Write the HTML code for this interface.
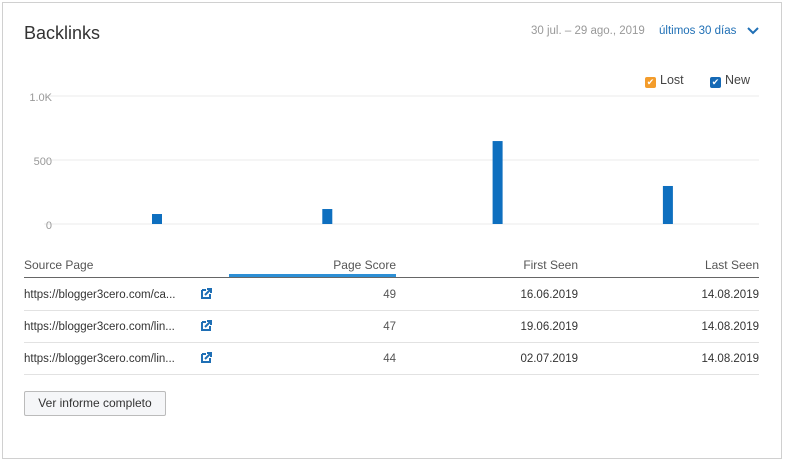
<!DOCTYPE html>
<html><head><meta charset="utf-8"><style>
body{margin:0;width:786px;height:462px;background:#fff;font-family:"Liberation Sans",sans-serif;overflow:hidden;position:relative}
.card{position:absolute;left:2px;top:2px;width:780px;height:457px;border:1px solid #d0d0d0;box-sizing:border-box}
.abs{position:absolute;white-space:nowrap}
.hd{font-size:12px;color:#555;top:258px}
.cell{font-size:11.5px;color:#333}
.rowline{position:absolute;left:24px;width:735px;height:1px;background:#e2e2e2}
</style></head><body>
<div class="card"></div>
<div class="abs" style="left:24px;top:23px;font-size:18px;color:#333">Backlinks</div>
<div class="abs" style="left:531px;top:25px;font-size:11.5px;color:#999">30 jul. – 29 ago., 2019</div>
<div class="abs" style="left:659px;top:25px;font-size:11.5px;color:#1f6fb5">últimos 30 días</div>
<svg class="abs" style="left:746px;top:26px" width="14" height="10"><path d="M2 2 L7 7 L12 2" fill="none" stroke="#1f6fb5" stroke-width="2"/></svg>
<svg class="abs" style="left:0;top:60px" width="786" height="180"><g id="g"></g></svg>
<div class="abs hd" style="left:24px">Source Page</div>
<div class="abs hd" style="right:390px">Page Score</div>
<div class="abs hd" style="right:208px">First Seen</div>
<div class="abs hd" style="right:27px">Last Seen</div>
<div class="abs" style="left:229px;top:274px;width:167px;height:3px;background:#2d8fd5"></div>
<div class="rowline" style="top:277px;background:#666"></div>
<div id="rows"></div>
<div class="abs" style="left:24px;top:391px;width:142px;height:25px;border:1px solid #bbb;border-radius:2px;background:#f5f6f8;box-sizing:border-box;font-size:12px;color:#333;text-align:center;line-height:23px">Ver informe completo</div>
<script>
const categories=["d1","d2","d3","d4"];
const newValues=[78,117,648,297];
const lostValues=[0,0,0,0];
const tickValues=[0,500,1000];
const tickLabels=["0","500","1.0K"];
const svg="http://www.w3.org/2000/svg";
const g=document.getElementById('g');
const y=v=>164-v*0.128;
const x=i=>157+i*170.3;
tickValues.forEach((t,i)=>{
 const l=document.createElementNS(svg,'line');
 
 
 l.setAttribute('x1',44);l.setAttribute('x2',759);l.setAttribute('y1',y(t));l.setAttribute('y2',y(t));
 l.setAttribute('stroke','#ebebeb');g.appendChild(l);
 const tx=document.createElementNS(svg,'text');
 
 
 tx.setAttribute('x',52);tx.setAttribute('y',y(t)+5);tx.setAttribute('text-anchor','end');
 tx.setAttribute('font-size','11');tx.setAttribute('fill','#999');tx.textContent=tickLabels[i];g.appendChild(tx);
});
categories.forEach((c,i)=>{
 const r=document.createElementNS(svg,'rect');
 
 
 r.setAttribute('x',x(i)-5);r.setAttribute('width',10);r.setAttribute('y',y(newValues[i]));
 r.setAttribute('height',y(0)-y(newValues[i]));r.setAttribute('fill','#0e6fbf');g.appendChild(r);
});
[["Lost","#f39c2b",645],["New","#1569b5",710]].forEach(([n,c,lx])=>{
 const d=document.createElement('div');
 
 
 d.className='abs';d.style.cssText=`left:${lx}px;top:73px;font-size:12.5px;color:#444`;
 d.innerHTML=`<span style="display:inline-block;width:11px;height:11px;background:${c};border-radius:2px;color:#fff;font-size:9px;line-height:11px;text-align:center;vertical-align:-1px;margin-right:4px">&#10004;</span>${n}`;
 document.body.appendChild(d);
});
const urls=["https://blogger3cero.com/ca...","https://blogger3cero.com/lin...","https://blogger3cero.com/lin..."];
const scores=["49","47","44"];
const first=["16.06.2019","19.06.2019","02.07.2019"];
const last=["14.08.2019","14.08.2019","14.08.2019"];
const rows=document.getElementById('rows');
urls.forEach((u,i)=>{
 const top=289+i*32;
 const h=`<div class="abs cell" style="left:24px;top:${top}px">${u}</div>
 <svg class="abs" style="left:201px;top:${top-1}px" width="11" height="11"><path d="M1 2 H5 M1 2 V10 H9 V6" fill="none" stroke="#1f6fb5" stroke-width="2"/><path d="M4 7 L10 1 M6 1 H10 V5" fill="none" stroke="#1f6fb5" stroke-width="2"/></svg>
 <div class="abs cell" style="right:390px;top:${top}px;color:#555">${scores[i]}</div>
 <div class="abs cell" style="right:208px;top:${top}px">${first[i]}</div>
 <div class="abs cell" style="right:27px;top:${top}px">${last[i]}</div>
 <div class="rowline" style="top:${310+i*32}px"></div>`;
 rows.insertAdjacentHTML('beforeend',h);
});
</script>
</body></html>
